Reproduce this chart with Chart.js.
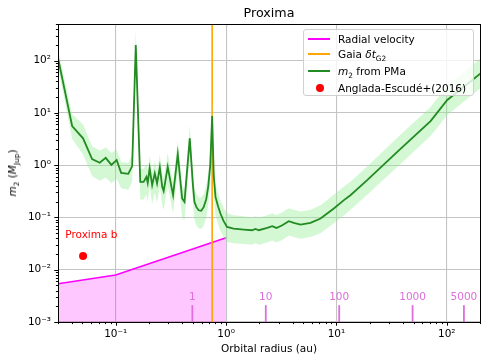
<!DOCTYPE html>
<html lang="en">
<head>
<meta charset="UTF-8" />
<title>Proxima</title>
<script src="https://cdn.jsdelivr.net/npm/chart.js"></script>
<style>
  body { margin: 0; background: #fff; font-family: "DejaVu Sans", sans-serif; color: #000; }
  .wrap { position: relative; width: 491px; height: 364px; }
  canvas { position: absolute; left: 0; top: 0; }
  .title { position: absolute; left: 58px; width: 422px; top: 5px; text-align: center; font-size: 12.7px; }
  .xlabel { position: absolute; left: 58px; width: 422px; top: 342px; text-align: center; font-size: 10.5px; }
  .ylabel { position: absolute; left: 12px; top: 173px; transform: translate(-50%, -50%) rotate(-90deg); font-size: 10.5px; white-space: nowrap; }
  .legend { position: absolute; left: 303px; top: 29px; width: 171px; height: 67px; box-sizing: border-box;
            border: 1px solid #d0d0d0; border-radius: 3px; background: rgba(255,255,255,0.8); font-size: 10.5px; }
  .row { position: absolute; left: 0; height: 14px; line-height: 14px; white-space: nowrap; }
  .row .sw { position: absolute; left: 4px; top: 6px; width: 22px; height: 1.6px; }
  .row .dot { position: absolute; left: 12px; top: 3px; width: 8px; height: 8px; border-radius: 50%; background: red; }
  .row span.t { position: absolute; left: 34px; }
  sub { font-size: 70%; vertical-align: -3px; line-height: 0; }
</style>
</head>
<body>
<div class="wrap">
  <canvas id="chart" width="491" height="364"></canvas>
  <div class="title">Proxima</div>
  <div class="xlabel">Orbital radius (au)</div>
  <div class="ylabel"><i>m</i><sub>2</sub> (<i>M</i><sub>Jup</sub>)</div>
  <div class="legend">
    <div class="row" style="top:2px"><div class="sw" style="background:#ff00ff"></div><span class="t">Radial velocity</span></div>
    <div class="row" style="top:17px"><div class="sw" style="background:orange"></div><span class="t">Gaia <i>δt</i><sub>G2</sub></span></div>
    <div class="row" style="top:34px"><div class="sw" style="background:#228b22"></div><span class="t"><i>m</i><sub>2</sub> from PMa</span></div>
    <div class="row" style="top:51px"><div class="dot"></div><span class="t">Anglada-Escudé+(2016)</span></div>
  </div>
</div>

<script>
  // m2 from PMa (green curve) and its uncertainty band
  const radius = [0.03, 0.0403, 0.0506, 0.0611, 0.0716, 0.0812, 0.0914, 0.102, 0.112, 0.130,
    0.141, 0.152, 0.167, 0.179, 0.190, 0.195, 0.203, 0.214, 0.226, 0.237,
    0.251, 0.264, 0.272, 0.296, 0.320, 0.331, 0.365, 0.400, 0.420, 0.469,
    0.4835, 0.501, 0.517, 0.539, 0.565, 0.596, 0.628, 0.661, 0.689, 0.719,
    0.748, 0.773, 0.802, 0.846, 0.889, 0.946, 1.02, 1.17, 1.45,
    1.72, 1.85, 1.98, 2.36, 2.62, 2.86, 3.23, 3.70, 4.11, 4.73,
    5.82, 7.18, 9.47, 11.7, 13.4, 19.0, 37.0, 71.3, 101, 203];
  const mass = [112, 5.59, 3.25, 1.30, 1.11, 1.38, 1.01, 1.25, 0.711, 0.681,
    0.957, 199, 0.479, 0.479, 0.597, 0.458, 0.865, 0.414, 0.694, 0.446,
    0.904, 0.384, 0.318, 0.928, 0.384, 0.266, 1.62, 0.230, 0.198, 3.25,
    1.25, 0.414, 0.198, 0.157, 0.137, 0.134, 0.159, 0.223, 0.384, 1.0,
    8.69, 0.64, 0.247, 0.164, 0.119, 0.0865, 0.0658, 0.0613, 0.0586,
    0.0569, 0.0602, 0.0569, 0.0629, 0.0678, 0.0629, 0.0709, 0.0846, 0.0785, 0.0731,
    0.0785, 0.0953, 0.148, 0.214, 0.266, 0.516, 1.94, 6.96, 17.6, 57.1];
  const massHigh = [160, 9.5, 6.0, 2.3, 1.9, 2.2, 1.7, 2.0, 1.15, 1.1,
    1.6, 400, 0.85, 0.85, 1.05, 0.8, 1.5, 0.72, 1.2, 0.78,
    1.6, 0.68, 0.56, 1.7, 0.68, 0.47, 2.9, 0.41, 0.35, 5.8,
    2.2, 0.74, 0.35, 0.28, 0.24, 0.24, 0.28, 0.4, 0.68, 1.8,
    15, 1.15, 0.44, 0.29, 0.21, 0.155, 0.12, 0.11, 0.105,
    0.1, 0.105, 0.1, 0.11, 0.12, 0.11, 0.125, 0.15, 0.14, 0.13,
    0.14, 0.17, 0.27, 0.39, 0.48, 0.94, 3.6, 13, 33, 110];
  const massLow = [75, 3.2, 1.6, 0.62, 0.50, 0.58, 0.45, 0.55, 0.36, 0.34,
    0.48, 120, 0.22, 0.22, 0.27, 0.2, 0.4, 0.18, 0.3, 0.19,
    0.4, 0.17, 0.14, 0.42, 0.17, 0.12, 0.75, 0.10, 0.088, 1.5,
    0.6, 0.19, 0.088, 0.07, 0.062, 0.06, 0.07, 0.1, 0.17, 0.45,
    4, 0.28, 0.11, 0.075, 0.055, 0.042, 0.034, 0.032, 0.031,
    0.03, 0.032, 0.03, 0.033, 0.036, 0.033, 0.037, 0.045, 0.042, 0.039,
    0.042, 0.05, 0.077, 0.11, 0.14, 0.27, 1.0, 3.6, 9.1, 30];

  // radial velocity detection limit
  const rvRadius = [0.03, 0.1, 1.0];
  const rvMass = [0.0054, 0.0079, 0.041];

  // Gaia DR2 time window
  const gaiaRadius = 0.748;

  // Proxima b (Anglada-Escude+2016)
  const planetRadius = [0.0506];
  const planetMass = [0.0183];
  const planetName = 'Proxima b';

  // orbital period markers (years)
  const periodLabels = ['1', '10', '100', '1000', '5000'];
  const periodRadius = [0.495, 2.29, 10.6, 49, 143];

  const xMin = 0.03, xMax = 200, yMin = 0.001, yMax = 500;
  const FONT = '"DejaVu Sans", sans-serif';
  const supMap = { '-': '⁻', '0': '⁰', '1': '¹', '2': '²', '3': '³', '4': '⁴', '5': '⁵' };

  function pts(xs, ys) { return xs.map((x, i) => ({ x: x, y: ys[i] })); }
  function isMajor(v) {
    const e = Math.round(Math.log10(v));
    return Math.abs(v / Math.pow(10, e) - 1) < 1e-6;
  }
  function decadeLabel(v) {
    if (!isMajor(v)) return '';
    const e = Math.round(Math.log10(v));
    return '10' + String(e).split('').map(c => supMap[c]).join('');
  }
  function logTicks(min, max) {
    const out = [];
    for (let e = Math.floor(Math.log10(min)); e <= Math.ceil(Math.log10(max)); e++) {
      for (let m = 1; m < 10; m++) {
        const v = +(m * Math.pow(10, e)).toPrecision(6);
        if (v >= min * 0.9999 && v <= max * 1.0001) out.push({ value: v });
      }
    }
    return out;
  }

  const datasets = [];
  datasets.push({
    data: pts(planetRadius, planetMass), showLine: false,
    pointRadius: 4, pointBackgroundColor: 'red', pointBorderWidth: 0
  });
  periodRadius.forEach(r => {
    datasets.push({
      data: [{ x: r, y: yMin }, { x: r, y: 0.0021 }],
      borderColor: '#dd6edd', borderWidth: 1.8, pointRadius: 0
    });
  });
  datasets.push({
    data: pts(radius, mass), borderColor: '#228b22', borderWidth: 1.8, pointRadius: 0
  });
  datasets.push({
    data: pts(radius, massHigh), borderWidth: 0, pointRadius: 0,
    fill: '+1', backgroundColor: 'rgba(144,238,144,0.4)'
  });
  datasets.push({
    data: pts(radius, massLow), borderWidth: 0, pointRadius: 0, fill: false
  });
  datasets.push({
    data: [{ x: gaiaRadius, y: yMin }, { x: gaiaRadius, y: yMax }],
    borderColor: 'orange', borderWidth: 1.6, pointRadius: 0
  });
  datasets.push({
    data: pts(rvRadius, rvMass), borderColor: '#ff00ff', borderWidth: 1.6, pointRadius: 0,
    fill: { value: yMin }, backgroundColor: 'rgba(255,0,255,0.22)'
  });

  const frame = {
    id: 'frame',
    afterDatasetsDraw(chart) {
      const ctx = chart.ctx, x = chart.scales.x, y = chart.scales.y;
      ctx.save();
      ctx.font = '10.5px ' + FONT;
      ctx.textAlign = 'center';
      ctx.textBaseline = 'middle';
      ctx.fillStyle = '#dd6edd';
      periodRadius.forEach((r, i) => {
        ctx.fillText(periodLabels[i], x.getPixelForValue(r), y.getPixelForValue(0.0021) - 8);
      });
      ctx.fillStyle = 'red';
      ctx.fillText(planetName, x.getPixelForValue(planetRadius[0] * 1.19), y.getPixelForValue(planetMass[0] * 2.5));
      ctx.restore();
    },
    afterDraw(chart) {
      const ctx = chart.ctx, a = chart.chartArea, x = chart.scales.x, y = chart.scales.y;
      ctx.save();
      ctx.strokeStyle = '#000';
      ctx.lineWidth = 1;
      ctx.beginPath();
      x.ticks.forEach(t => {
        const px = Math.round(x.getPixelForValue(t.value)) + 0.5;
        const len = isMajor(t.value) ? 3.7 : 2.1;
        ctx.moveTo(px, a.bottom); ctx.lineTo(px, a.bottom + len);
      });
      y.ticks.forEach(t => {
        const py = Math.round(y.getPixelForValue(t.value)) + 0.5;
        const len = isMajor(t.value) ? 3.7 : 2.1;
        ctx.moveTo(a.left, py); ctx.lineTo(a.left - len, py);
      });
      ctx.stroke();
      ctx.strokeRect(Math.round(a.left) + 0.5, Math.round(a.top) + 0.5,
        Math.round(a.right - a.left), Math.round(a.bottom - a.top));
      ctx.restore();
    }
  };

  function axis(min, max, size, fitKey) {
    return {
      type: 'logarithmic', min: min, max: max,
      afterFit(s) { s[fitKey] = size; },
      afterBuildTicks(s) { s.ticks = logTicks(min, max); },
      ticks: {
        autoSkip: false, maxRotation: 0, color: '#000', padding: fitKey === 'width' ? 7 : 6,
        font: { size: 10.5, family: FONT },
        callback: v => decadeLabel(v)
      },
      grid: {
        drawTicks: false, lineWidth: 1.1,
        color: c => (c.tick && isMajor(c.tick.value)) ? '#c4c4c4' : 'rgba(0,0,0,0)'
      },
      border: { display: false }
    };
  }

  new Chart(document.getElementById('chart').getContext('2d'), {
    type: 'line',
    data: { datasets: datasets },
    options: {
      responsive: false,
      animation: false,
      layout: { padding: { top: 24, right: 11, left: 0, bottom: 0 } },
      plugins: { legend: { display: false }, tooltip: { enabled: false }, title: { display: false } },
      scales: {
        x: axis(xMin, xMax, 42, 'height'),
        y: axis(yMin, yMax, 58, 'width')
      }
    },
    plugins: [frame]
  });
</script>
</body>
</html>
